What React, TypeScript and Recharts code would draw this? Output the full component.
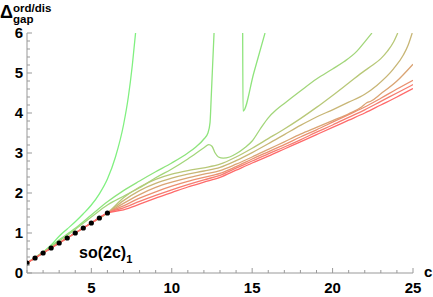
import React from 'react';
import { LineChart, Line, XAxis, YAxis } from 'recharts';

type P = { c: number; v: number | null };
const mk = (cs: number[], vs: (number | null)[]): P[] => cs.map((c, i) => ({ c, v: vs[i] }));

const xTicks = [1, 2, 3, 4, 5, 6, 7, 8, 9, 10, 11, 12, 13, 14, 15, 16, 17, 18, 19, 20, 21, 22, 23, 24, 25];
const yTicks = [0, 0.2, 0.4, 0.6, 0.8, 1, 1.2, 1.4, 1.6, 1.8, 2, 2.2, 2.4, 2.6, 2.8, 3, 3.2, 3.4, 3.6, 3.8, 4, 4.2, 4.4, 4.6, 4.8, 5, 5.2, 5.4, 5.6, 5.8, 6];

// so(2c)_1 reference points
const refC = [1, 1.5, 2, 2.5, 3, 3.5, 4, 4.5, 5, 5.5, 6];
const refV = [0.25, 0.375, 0.5, 0.625, 0.75, 0.875, 1, 1.125, 1.25, 1.375, 1.5];

const c1C = [1, 1.5, 2, 2.5, 3, 3.5, 4, 4.5, 5, 5.5, 6, 6.5, 7, 7.3, 7.55, 7.75];
const c1V = [0.25, 0.38, 0.52, 0.7, 0.92, 1.1, 1.28, 1.48, 1.7, 1.98, 2.35, 2.9, 3.7, 4.4, 5.2, 6.0];

const c2C = [1, 2, 3, 4, 5, 6, 7, 8, 9, 10, 11, 11.5, 12, 12.25, 12.38, 12.45, 12.52, 12.63, 13.5, 14.41, 14.43, 15.1, 15.8];
const c2V = [0.25, 0.53, 0.83, 1.12, 1.45, 1.78, 2.06, 2.3, 2.53, 2.75, 3.0, 3.15, 3.35, 3.5, 3.76, 4.35, 5.0, 6.0, null, 6.0, 4.05, 5.0, 6.0];

const c3C = [1, 2, 3, 4, 5, 6, 7, 8, 9, 10, 11, 12, 12.3, 12.5, 12.7, 12.9, 13.2, 13.6, 14, 14.5, 15, 15.5, 16, 16.5, 17, 18, 19, 20, 20.7, 21.5, 22, 22.45];
const c3V = [0.25, 0.52, 0.8, 1.09, 1.4, 1.7, 1.92, 2.13, 2.38, 2.6, 2.85, 3.13, 3.21, 3.17, 3.0, 2.9, 2.87, 2.9, 2.98, 3.12, 3.3, 3.6, 3.88, 4.08, 4.24, 4.55, 4.85, 5.1, 5.28, 5.54, 5.78, 6.0];

const c4C = [1, 2, 3, 4, 5, 6, 7, 8, 9, 10, 11, 12, 13, 14, 15, 16, 17, 18, 19, 20, 21, 22, 22.5, 23, 23.4, 23.8, 24.05];
const c4V = [0.25, 0.5, 0.75, 1, 1.25, 1.5, 1.88, 2.15, 2.34, 2.47, 2.56, 2.63, 2.72, 2.9, 3.12, 3.36, 3.6, 3.86, 4.14, 4.44, 4.75, 5.06, 5.2, 5.36, 5.54, 5.78, 6.0];

const c5C = [1, 2, 3, 4, 5, 6, 7, 8, 9, 10, 11, 12, 13, 14, 15, 16, 17, 18, 19, 20, 21, 22, 22.75, 23.8, 24.4, 24.7, 24.95];
const c5V = [0.25, 0.5, 0.75, 1, 1.25, 1.5, 1.81, 2.06, 2.24, 2.37, 2.47, 2.55, 2.64, 2.81, 3.01, 3.23, 3.46, 3.69, 3.9, 4.08, 4.27, 4.47, 4.69, 5.11, 5.45, 5.7, 6.0];

const fanC = [1, 2, 3, 4, 5, 6, 7, 8, 9, 10, 11, 12, 13, 14, 15, 16, 17, 18, 19, 20, 21, 22, 23, 24, 25];
const c6C = [1, 2, 3, 4, 5, 6, 7, 8, 9, 10, 11, 12, 13, 14, 15, 16, 17, 18, 19, 20, 21, 21.8, 22.1, 22.4, 23, 24, 25];
const c6V = [0.25, 0.5, 0.75, 1, 1.25, 1.5, 1.74, 1.96, 2.14, 2.27, 2.38, 2.47, 2.56, 2.72, 2.9, 3.09, 3.28, 3.47, 3.64, 3.81, 3.98, 4.15, 4.25, 4.3, 4.48, 4.8, 5.22];
const c7V = [0.25, 0.5, 0.75, 1, 1.25, 1.5, 1.68, 1.87, 2.03, 2.17, 2.29, 2.39, 2.49, 2.66, 2.85, 3.03, 3.21, 3.4, 3.58, 3.77, 3.96, 4.15, 4.37, 4.6, 4.82];
const c8V = [0.25, 0.5, 0.75, 1, 1.25, 1.5, 1.63, 1.79, 1.94, 2.08, 2.21, 2.33, 2.44, 2.62, 2.8, 2.98, 3.15, 3.33, 3.52, 3.7, 3.89, 4.08, 4.29, 4.5, 4.71];
const c9V = [0.25, 0.5, 0.75, 1, 1.25, 1.5, 1.58, 1.72, 1.87, 2.01, 2.15, 2.27, 2.39, 2.57, 2.75, 2.92, 3.1, 3.28, 3.46, 3.64, 3.82, 4.0, 4.2, 4.4, 4.61];

const series = [
  { name: 's1', data: mk(c1C, c1V), color: '#80f080' },
  { name: 's2', data: mk(c2C, c2V), color: '#8ee47c' },
  { name: 's3', data: mk(c3C, c3V), color: '#a2d67a' },
  { name: 's4', data: mk(c4C, c4V), color: '#b8c878' },
  { name: 's5', data: mk(c5C, c5V), color: '#c8b676' },
  { name: 's6', data: mk(c6C, c6V), color: '#daa474' },
  { name: 's7', data: mk(fanC, c7V), color: '#ea9070' },
  { name: 's8', data: mk(fanC, c8V), color: '#f67c70' },
  { name: 's9', data: mk(fanC, c9V), color: '#ff6a6a' },
];
const refData = mk(refC, refV);

const FONT = '"Liberation Sans", Arial, sans-serif';
const AX = '#999';

const XTick = (props: any) => {
  const { x, y, payload } = props;
  const v = payload.value;
  const major = v % 5 === 0;
  return (
    <g>
      <line x1={x} y1={y} x2={x} y2={y - (major ? 5 : 3)} stroke={AX} strokeWidth={1} />
      {major && (
        <text x={x} y={y + 20} textAnchor="middle" fontFamily={FONT} fontWeight="bold" fontSize={15} fill="#000">
          {v}
        </text>
      )}
    </g>
  );
};

const YTick = (props: any) => {
  const { x, y, payload } = props;
  const v = payload.value;
  const major = Number.isInteger(v);
  return (
    <g>
      <line x1={x} y1={y} x2={x + (major ? 5 : 3)} y2={y} stroke={AX} strokeWidth={1} />
      {major && (
        <text x={x - 4} y={y + 5} textAnchor="end" fontFamily={FONT} fontWeight="bold" fontSize={15} fill="#000">
          {v}
        </text>
      )}
    </g>
  );
};

export default function App() {
  return (
    <div style={{ position: 'absolute', left: 0, top: 0, width: 433, height: 297, background: '#fff' }}>
      <LineChart width={433} height={297} margin={{ top: 33, right: 20, bottom: 0, left: 0 }}>
        <XAxis
          dataKey="c"
          type="number"
          domain={[1, 25]}
          ticks={xTicks}
          interval={0}
          tickSize={0}
          tickMargin={0}
          tick={(p: any) => <XTick {...p} />}
          axisLine={{ stroke: AX }}
          height={24}
          allowDataOverflow
        />
        <YAxis
          type="number"
          domain={[0, 6]}
          ticks={yTicks}
          interval={0}
          tickSize={0}
          tickMargin={0}
          tick={(p: any) => <YTick {...p} />}
          axisLine={{ stroke: AX }}
          width={27}
          allowDataOverflow
        />
        {series.map((s) => (
          <Line
            key={s.name}
            data={s.data}
            dataKey="v"
            type="monotone"
            stroke={s.color}
            strokeWidth={1.3}
            dot={false}
            activeDot={false}
            isAnimationActive={false}
          />
        ))}
        <Line
          data={refData}
          dataKey="v"
          type="linear"
          stroke="none"
          dot={{ r: 2.6, fill: '#000', stroke: 'none' }}
          activeDot={false}
          isAnimationActive={false}
        />
      </LineChart>
      <svg width={433} height={297} style={{ position: 'absolute', left: 0, top: 0, pointerEvents: 'none' }}>
        <text x={0} y={18} fontFamily={FONT} fontWeight="bold" fontSize={18} fill="#000">Δ</text>
        <text x={13} y={12} fontFamily={FONT} fontWeight="bold" fontSize={11.5} fill="#000">ord/dis</text>
        <text x={13} y={22.5} fontFamily={FONT} fontWeight="bold" fontSize={11.5} fill="#000">gap</text>
        <text x={79} y={258} fontFamily={FONT} fontWeight="bold" fontSize={16} fill="#000">
          so(2c)
          <tspan fontSize={11} dy={5}>1</tspan>
        </text>
        <text x={424} y={277} fontFamily={FONT} fontWeight="bold" fontSize={15} fill="#000">c</text>
      </svg>
    </div>
  );
}
